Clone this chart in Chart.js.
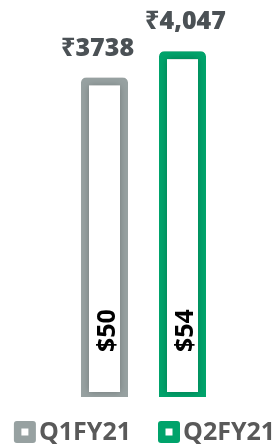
<!DOCTYPE html>
<html><head><meta charset="utf-8">
<script src="https://cdn.jsdelivr.net/npm/chart.js@4"></script>
<style>html,body{margin:0;padding:0;background:#fff}#wrap{width:280px;height:447px;position:relative}</style>
</head><body><div id="wrap"><canvas id="c"></canvas></div>
<script>
const categories = [''];
const seriesNames = ['Q1FY21', 'Q2FY21'];
const q1Values = [3738];
const q2Values = [4047];
const topLabels = ['₹3738', '₹4,047'];
const innerLabels = ['$50', '$54'];
const seriesColors = ['#97A1A1', '#00A36B'];

const shadowPlugin = {
  id: 'barShadow',
  beforeDatasetsDraw(chart) {
    const ctx = chart.ctx;
    ctx.save();
    ctx.shadowColor = 'rgba(0,0,0,0.28)';
    ctx.shadowBlur = 7;
    ctx.shadowOffsetX = 0;
    ctx.shadowOffsetY = 0;
  },
  afterDatasetsDraw(chart) {
    chart.ctx.restore();
  }
};

const labelPlugin = {
  id: 'barLabels',
  afterDatasetsDraw(chart, args, opts) {
    const ctx = chart.ctx;
    const base = chart.scales.y.getPixelForValue(0);
    chart.data.datasets.forEach((ds, i) => {
      const bar = chart.getDatasetMeta(i).data[0];
      ctx.save();
      ctx.fillStyle = '#4B5155';
      ctx.font = '800 25px "Open Sans", "Noto Sans", sans-serif';
      ctx.textAlign = 'center';
      ctx.textBaseline = 'alphabetic';
      ctx.fillText(topLabels[i], bar.x + opts.shift[i], bar.y - 22);
      ctx.translate(bar.x + 3, base - 45);
      ctx.rotate(-Math.PI / 2);
      ctx.fillStyle = '#000';
      ctx.font = 'bold 25px "Open Sans", "Noto Sans", sans-serif';
      ctx.textAlign = 'left';
      ctx.textBaseline = 'middle';
      ctx.fillText(innerLabels[i], 0, 0);
      ctx.restore();
    });
  }
};

const legendPlugin = {
  id: 'boxLegend',
  afterDraw(chart) {
    const ctx = chart.ctx;
    ctx.save();
    ctx.font = 'bold 25px "Open Sans", "Noto Sans", sans-serif';
    const box = 22, gap = 3, spacing = 27;
    const widths = seriesNames.map(n => box + gap + ctx.measureText(n).width);
    const total = widths.reduce((a, b) => a + b, 0) + spacing * (seriesNames.length - 1);
    let x = (chart.chartArea.left + chart.chartArea.right) / 2 - total / 2 + 1;
    const cy = chart.height - 15;
    seriesNames.forEach((name, i) => {
      ctx.fillStyle = seriesColors[i];
      ctx.beginPath();
      ctx.roundRect(x, cy - box / 2, box, box, 3);
      ctx.fill();
      ctx.fillStyle = '#fff';
      ctx.fillRect(x + box / 2 - 3.5, cy - 3.5, 7, 7);
      ctx.fillStyle = '#595959';
      ctx.textAlign = 'left';
      ctx.textBaseline = 'middle';
      ctx.fillText(name, x + box + gap, cy + 1);
      x += widths[i] + spacing;
    });
    ctx.restore();
  }
};

const commonBar = {
  backgroundColor: '#ffffff',
  borderWidth: { top: 8, left: 8, right: 8, bottom: 5 },
  borderRadius: { topLeft: 5, topRight: 5, bottomLeft: 0, bottomRight: 0 },
  borderSkipped: false,
  categoryPercentage: 0.5714,
  barPercentage: 0.6026
};

new Chart(document.getElementById('c'), {
  type: 'bar',
  data: {
    labels: categories,
    datasets: [
      Object.assign({ label: seriesNames[0], data: q1Values, borderColor: seriesColors[0] }, commonBar),
      Object.assign({ label: seriesNames[1], data: q2Values, borderColor: seriesColors[1] }, commonBar)
    ]
  },
  options: {
    responsive: true,
    maintainAspectRatio: false,
    animation: false,
    layout: { padding: { top: 21, bottom: 50, left: 7, right: 0 } },
    plugins: { legend: { display: false }, tooltip: { enabled: false }, barLabels: { shift: [-7, 3] } },
    scales: {
      x: { display: false },
      y: { display: false, min: 0, max: 4400 }
    }
  },
  plugins: [shadowPlugin, labelPlugin, legendPlugin]
});
</script>
</body></html>
